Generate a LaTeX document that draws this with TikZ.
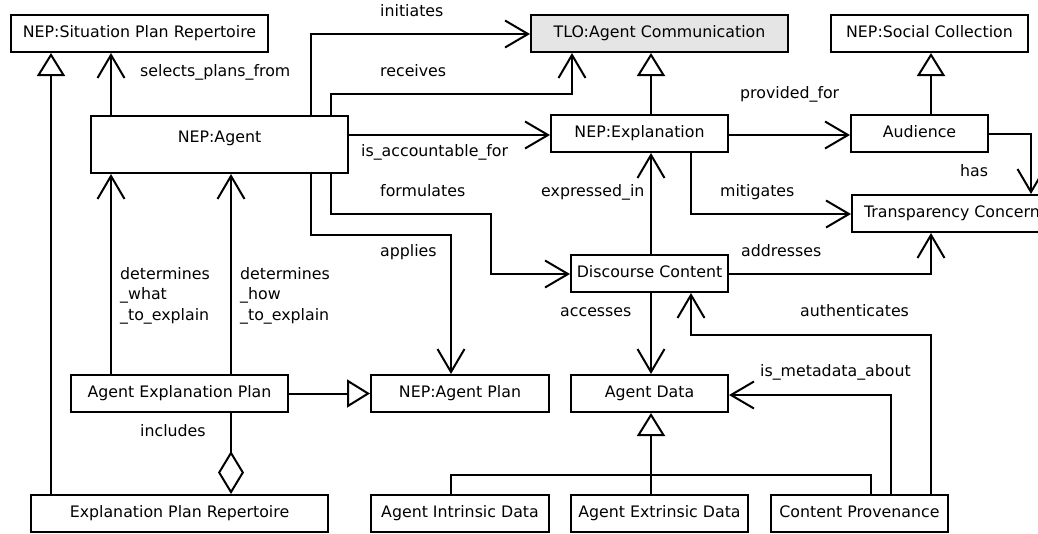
\documentclass[tikz,border=0pt]{standalone}
\usepackage{fontspec}
\setmainfont{DejaVu Sans}
\usetikzlibrary{arrows.meta}
\tikzset{
  box/.style={draw, line width=2pt, inner sep=0pt, text height=0.73em, text depth=0pt,
              minimum height=37pt, font=\fontsize{15.8}{18}\selectfont},
  lbl/.style={inner sep=0pt, anchor=west, text height=0.73em, text depth=0pt,
              font=\fontsize{15.8}{18}\selectfont},
  conn/.style={line width=2pt},
  assoc/.style={conn, -{Straight Barb[length=23pt,width=27pt,line width=2pt]}},
  gen/.style={conn, -{Triangle[length=23pt,width=28pt,fill=white,line width=2pt]}},
  aggr/.style={conn, {Diamond[length=43pt,width=26pt,fill=white,line width=2pt]}-},
}
\begin{document}
\begin{tikzpicture}[x=1pt,y=-1pt]
\useasboundingbox (0,0) rectangle (1038,533);

% classes
\node[box, minimum width=257pt] (spr) at (139.5,33.5) {NEP:Situation Plan Repertoire};
\node[box, minimum width=257pt, fill=black!10] (tlo) at (659.5,33.5) {TLO:Agent Communication};
\node[box, minimum width=197pt] (soc) at (929.5,33.5) {NEP:Social Collection};
\node[box, minimum width=257pt, minimum height=0pt, text height=26pt, text depth=31pt, anchor=north] (agent) at (219.5,115) {NEP:Agent};
\node[box, minimum width=177pt] (expl) at (639.5,133.5) {NEP:Explanation};
\node[box, minimum width=137pt] (aud) at (919.5,133.5) {Audience};
\node[box, inner xsep=12pt, anchor=west] (trans) at (851,213.5) {Transparency Concern};
\node[box, minimum width=157pt] (disc) at (649.5,273.5) {Discourse Content};
\node[box, minimum width=217pt] (aep) at (179.5,393.5) {Agent Explanation Plan};
\node[box, minimum width=178pt] (aplan) at (460,393.5) {NEP:Agent Plan};
\node[box, minimum width=157pt] (adata) at (649.5,393.5) {Agent Data};
\node[box, minimum width=297pt] (epr) at (179.5,513.5) {Explanation Plan Repertoire};
\node[box, minimum width=178pt] (aint) at (460,513.5) {Agent Intrinsic Data};
\node[box, minimum width=177pt] (aext) at (659.5,513.5) {Agent Extrinsic Data};
\node[box, minimum width=177pt] (cprov) at (859.5,513.5) {Content Provenance};

% bend points
\coordinate (ini) at (311,34);
\coordinate (rec1) at (331,94);
\coordinate (rec2) at (572,94);
\coordinate (frm1) at (331,214);
\coordinate (frm2) at (491,214);
\coordinate (frm3) at (491,274);
\coordinate (app1) at (311,235);
\coordinate (app2) at (451,235);
\coordinate (has1) at (1031,134);
\coordinate (mit1) at (691,214);
\coordinate (adr1) at (931,274);
\coordinate (aut1) at (931,335);
\coordinate (aut2) at (691,335);
\coordinate (meta1) at (891,395);
\coordinate (dbus) at (451,475);
\coordinate (dbus2) at (871,475);

% generalizations
\draw[gen] (epr.north -| 51,0) -- (spr.south -| 51,0);
\draw[gen] (expl.north -| 651,0) -- (tlo.south -| 651,0);
\draw[gen] (aud.north -| 931,0) -- (soc.south -| 931,0);
\draw[gen] (aep.east) -- (aplan.west);
\draw[gen] (aext.north -| 651,0) -- (adata.south -| 651,0);
\draw[conn] (aint.north -| dbus) -- (dbus) -- (dbus2) -- (cprov.north -| dbus2);

% associations
\draw[assoc] (agent.north -| 111,0) -- (spr.south -| 111,0);
\draw[assoc] (agent.north -| ini) -- (ini) -- (tlo.west |- ini);
\draw[assoc] (agent.north -| rec1) -- (rec1) -- (rec2) -- (tlo.south -| rec2);
\draw[assoc] (agent.east |- 0,135) -- (expl.west |- 0,135);
\draw[assoc] (expl.east |- 0,135) -- (aud.west |- 0,135);
\draw[assoc] (aud.east |- has1) -- (has1) -- (trans.north -| has1);
\draw[assoc] (expl.south -| mit1) -- (mit1) -- (trans.west |- mit1);
\draw[assoc] (agent.south -| frm1) -- (frm1) -- (frm2) -- (frm3) -- (disc.west |- frm3);
\draw[assoc] (agent.south -| app1) -- (app1) -- (app2) -- (aplan.north -| app2);
\draw[assoc] (disc.north -| 651,0) -- (expl.south -| 651,0);
\draw[assoc] (disc.east |- adr1) -- (adr1) -- (trans.south -| adr1);
\draw[assoc] (disc.south -| 651,0) -- (adata.north -| 651,0);
\draw[assoc, line width=2.6pt] (cprov.north -| aut1) -- (aut1) -- (aut2) -- (disc.south -| aut2);
\draw[assoc] (cprov.north -| meta1) -- (meta1) -- (adata.east |- meta1);
\draw[assoc] (aep.north -| 111,0) -- (agent.south -| 111,0);
\draw[assoc] (aep.north -| 231,0) -- (agent.south -| 231,0);
\draw[aggr] (epr.north -| 231,0) -- (aep.south -| 231,0);

% labels
\node[lbl] (l-ini) at (380,13) {initiates};
\node[lbl] (l-rec) at (380,73) {receives};
\node[lbl] (l-sel) at (140,73) {selects\_plans\_from};
\node[lbl] (l-acc) at (361,153) {is\_accountable\_for};
\node[lbl] (l-frm) at (380,193) {formulates};
\node[lbl] (l-app) at (380,253) {applies};
\node[lbl] (l-prv) at (740,95) {provided\_for};
\node[lbl] (l-has) at (960,173) {has};
\node[lbl] (l-mit) at (720,193) {mitigates};
\node[lbl] (l-exp) at (541,193) {expressed\_in};
\node[lbl] (l-adr) at (741,253) {addresses};
\node[lbl] (l-acs) at (560,313) {accesses};
\node[lbl] (l-aut) at (800,313) {authenticates};
\node[lbl] (l-meta) at (760,373) {is\_metadata\_about};
\node[lbl] (l-inc) at (140,433) {includes};
\node[lbl, anchor=north west, text height=, text depth=, align=left,
      font=\fontsize{15.8}{20.5}\selectfont] (l-what) at (120,267) {determines\\\_what\\\_to\_explain};
\node[lbl, anchor=north west, text height=, text depth=, align=left,
      font=\fontsize{15.8}{20.5}\selectfont] (l-how) at (240,267) {determines\\\_how\\\_to\_explain};
\end{tikzpicture}
\end{document}
